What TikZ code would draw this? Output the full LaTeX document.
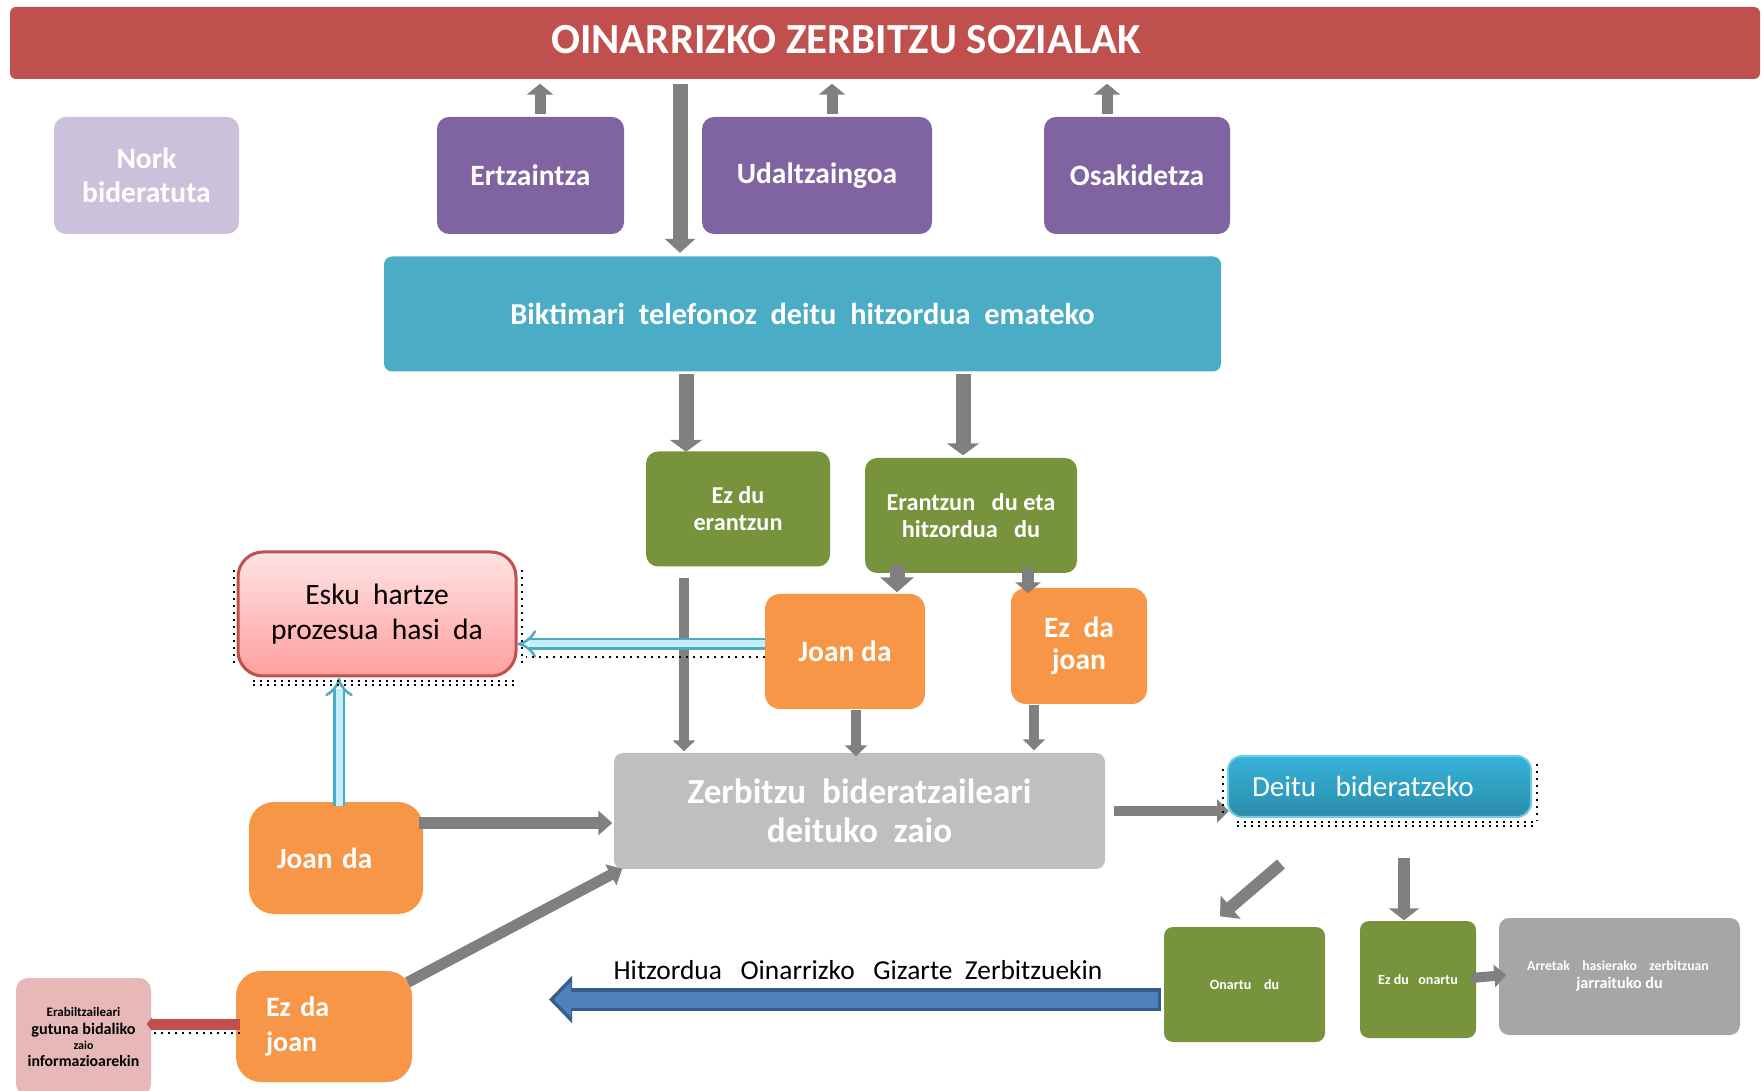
\documentclass[tikz,border=0pt]{standalone}
\usepackage{fontspec}
\setmainfont{Carlito}
\usetikzlibrary{arrows.meta,calc}
\definecolor{titlered}{HTML}{C0504D}
\definecolor{lavender}{HTML}{CCC1DA}
\definecolor{purp}{HTML}{8064A2}
\definecolor{aqua}{HTML}{4BACC6}
\definecolor{olive}{HTML}{77933C}
\definecolor{orng}{HTML}{F79646}
\definecolor{lgray}{HTML}{BFBFBF}
\definecolor{mgray}{HTML}{A6A6A6}
\definecolor{pinkbox}{HTML}{E6B9B8}
\definecolor{arrgray}{HTML}{808080}
\definecolor{bigblue}{HTML}{4F81BD}
\definecolor{bigblueb}{HTML}{385D8A}
\definecolor{pale}{HTML}{C4EEF9}
\definecolor{eskutop}{HTML}{FFE3E3}
\definecolor{eskubot}{HTML}{FF9F9F}
\definecolor{deitutop}{HTML}{35B3D9}
\definecolor{deitubot}{HTML}{2B8DAB}
\newcommand{\fsz}[2]{\fontsize{#1}{#2}\selectfont}

\begin{document}
\begin{tikzpicture}[x=0.1mm, y=-0.1mm,
    box/.style={rounded corners=1.2mm, inner sep=0pt, align=center, text=white},
    garrow/.style args={#1/#2/#3}{draw=arrgray, line width=#1, arrows={-Triangle[width=#2,length=#3]}},
    parrow/.style={draw=aqua, double=pale, double distance=0.7mm, line width=0.25mm, arrows={-Implies}},
    dotsh/.style={line width=0.2mm, dash pattern=on 0.2mm off 0.5mm}]
\useasboundingbox (0,0) rectangle (1762,1091);

% header
\node[box, fill=titlered, rounded corners=0.6mm, minimum width=175mm, minimum height=7.2mm] (bar) at (885,43) {};
\node[text=white, font=\bfseries\fsz{12.2}{14}] (title) at (846,40) {OINARRIZKO ZERBITZU SOZIALAK};

% who refers
\node[box, fill=lavender, minimum width=18.5mm, minimum height=11.7mm, font=\bfseries\fsz{8.4}{9.7}] (nork) at (146.5,175.5) {Nork\\bideratuta};
\node[box, fill=purp, minimum width=18.7mm, minimum height=11.7mm, font=\bfseries\fsz{8.4}{9.7}] (ertz) at (530.5,175.5) {Ertzaintza};
\node[box, fill=purp, minimum width=23mm, minimum height=11.7mm, font=\bfseries\fsz{8.4}{9.7}] (udal) at (817,175.5) {Udaltzaingoa};
\node[box, fill=purp, minimum width=18.6mm, minimum height=11.7mm, font=\bfseries\fsz{8.4}{9.7}] (osak) at (1137,175.5) {Osakidetza};

% phone call
\node[box, fill=aqua, rounded corners=0.8mm, minimum width=83.7mm, minimum height=11.5mm, font=\bfseries\fsz{8.65}{10}] (bikt) at (802.5,314) {Biktimari\ \ telefonoz\ \ deitu\ \ hitzordua\ \ emateko};
\node[box, fill=olive, minimum width=18.4mm, minimum height=11.5mm, font=\bfseries\fsz{6.9}{7.7}] (ezerantzun) at (738,509) {Ez du\\erantzun};
\node[box, fill=olive, minimum width=21.2mm, minimum height=11.5mm, font=\bfseries\fsz{6.9}{7.7}] (erantzundu) at (971,515.5) {Erantzun\ \ \ du eta\\hitzordua\ \ \ du};
\node[box, fill=orng, rounded corners=1.5mm, minimum width=16mm, minimum height=11.5mm, font=\bfseries\fsz{8.4}{9.1}] (joanmid) at (845,651.5) {Joan da};
\node[box, fill=orng, rounded corners=1.5mm, minimum width=13.6mm, minimum height=11.6mm, font=\bfseries\fsz{8.4}{9.1}] (ezjoanr) at (1079,646) {Ez\ \ da\\joan};
\node[box, fill=lgray, rounded corners=0.9mm, minimum width=49.1mm, minimum height=11.6mm, font=\bfseries\fsz{10}{11.1}] (zerb) at (859.5,811) {Zerbitzu\ \ bideratzaileari\\deituko\ \ zaio};

% referral
\node[box, top color=deitutop, bottom color=deitubot, draw=deitutop!70!white, line width=0.2mm, rounded corners=1.4mm, inner xsep=2.4mm, text width=25.5mm, align=left, minimum height=6.1mm, font=\fsz{8.3}{10}] (deitu) at (1379.5,786.5) {Deitu\ \ bideratzeko};
\node[box, fill=olive, rounded corners=0.9mm, minimum width=16.1mm, minimum height=11.5mm, font=\bfseries\fsz{4}{5}] (onartu) at (1244.5,984.5) {Onartu\ \ \ \ du};
\node[box, fill=olive, rounded corners=0.9mm, minimum width=11.6mm, minimum height=11.7mm, font=\bfseries\fsz{4}{5}] (ezonartu) at (1418,979.5) {Ez du\ \ \ onartu};
\node[box, fill=mgray, rounded corners=1mm, minimum width=24.1mm, minimum height=11.7mm, font=\bfseries\fsz{4.6}{5.1}] (arretak) at (1619.5,976.5) {{\fsz{3.9}{5.1}Arretak\ \ \ \ hasierako\ \ \ \ zerbitzuan\ \ }\\jarraituko du};

% left side
\node[box, top color=eskutop, bottom color=eskubot, draw=titlered, line width=0.3mm, rounded corners=2.5mm, minimum width=27.8mm, minimum height=12.4mm, text=black, font=\fsz{8.4}{10}] (esku) at (377,614) {Esku\ \ hartze\\prozesua\ \ hasi\ \ da};
\node[box, fill=orng, rounded corners=2.5mm, inner xsep=2.8mm, text width=11.8mm, align=left, minimum height=11.2mm, font=\bfseries\fsz{8.3}{10}] (joanl) at (336,858) {Joan da};
\node[box, fill=orng, rounded corners=2.5mm, inner xsep=3mm, text width=11.6mm, align=left, minimum height=11.1mm, font=\bfseries\fsz{8}{10}] (ezjoanl) at (324,1026.5) {Ez da\\joan};
\node[box, fill=pinkbox, rounded corners=1.2mm, minimum width=13.5mm, minimum height=11.8mm, text=black, font=\bfseries\fsz{4.5}{4.8}] (gutun) at (83.5,1037) {{\fsz{3.7}{4.8}Erabiltzaileari}\\[0.3pt]{\fsz{4.6}{4.8}gutuna bidaliko}\\[-0.6pt]{\fsz{3.4}{4.8}zaio}\\informazioarekin};
\node[font=\fsz{7.8}{9}] (hitzlbl) at (858,970) {Hitzordua\ \ \ Oinarrizko\ \ \ Gizarte\ \ Zerbitzuekin};
\coordinate (hitzend) at (549,999.5);

% gray arrows
\draw[garrow=1.1mm/2.6mm/1.1mm] ($(ertz.north)+(9.5,-2)$) -- ($(ertz.north|-bar.south)+(9.5,4)$);
\draw[garrow=1.1mm/2.6mm/1.1mm] ($(udal.north)+(15,-2)$) -- ($(udal.north|-bar.south)+(15,4)$);
\draw[garrow=1.1mm/2.6mm/1.1mm] ($(osak.north)+(-30,-2)$) -- ($(osak.north|-bar.south)+(-30,4)$);
\draw[garrow=1.5mm/3mm/1.4mm] ($(bikt.north|-bar.south)+(-122.5,4)$) -- ($(bikt.north)+(-122.5,-3)$);
\draw[garrow=1.5mm/3.2mm/1.2mm] ($(ezerantzun.north|-bikt.south)+(-52,2)$) -- ($(ezerantzun.north)+(-52,1)$);
\draw[garrow=1.5mm/3.2mm/1.2mm] ($(erantzundu.north|-bikt.south)+(-8,2)$) -- ($(erantzundu.north)+(-8,-2)$);
\draw[garrow=1.5mm/3.3mm/1.5mm] ($(joanmid.north|-erantzundu.south)+(52,-9)$) -- ($(joanmid.north)+(52,-1)$);
\draw[garrow=1.15mm/2.5mm/1.1mm] ($(ezjoanr.north|-erantzundu.south)+(-51,-6)$) -- ($(ezjoanr.north)+(-51,6)$);
\draw[garrow=1mm/2.2mm/1.1mm] ($(ezerantzun.south)+(-54,11)$) -- ($(ezerantzun.south|-zerb.north)+(-54,-1)$);
\draw[garrow=1mm/2.2mm/1.1mm] ($(joanmid.south)+(11,0)$) -- ($(joanmid.south|-zerb.north)+(11,4)$);
\draw[garrow=1mm/2.2mm/1.1mm] ($(ezjoanr.south)+(-45,0)$) -- ($(ezjoanr.south|-zerb.north)+(-45,-2)$);
\draw[garrow=1mm/2.3mm/1.2mm] ($(zerb.east)+(8.5,0)$) -- ($(deitu.west|-zerb.east)+(2,0)$);
\draw[garrow=1.2mm/3mm/1.4mm] ($(deitu.south)+(-98.5,46)$) -- ($(onartu.north)+(-24.5,-10)$);
\draw[garrow=1.2mm/3mm/1.2mm] ($(ezonartu.north|-deitu.south)+(-14,40)$) -- ($(ezonartu.north)+(-14,0)$);
\draw[garrow=1mm/2.2mm/1.2mm] ($(ezonartu.east)+(-6,-1.5)$) -- ($(arretak.west)+(8,-1.5)$);
\draw[garrow=1.2mm/2.4mm/1.4mm] ($(joanl.east)+(-5,-35)$) -- ($(zerb.west)+(-1,12)$);
\draw[garrow=1.1mm/2.3mm/1.3mm] ($(ezjoanl.north east)+(-5,12)$) -- ($(zerb.south west)+(9,-1)$);

% blue arrow
\draw[draw=bigblueb, line width=2.3mm, arrows={-Triangle[width=4.6mm,length=2.3mm]}] ($(onartu.west)+(-2,15)$) -- (hitzend);
\draw[draw=bigblue, line width=1.6mm, shorten <=0.35mm, shorten >=0.5mm, arrows={-Triangle[width=3.4mm,length=1.7mm]}] ($(onartu.west)+(-2,15)$) -- (hitzend);

% red arrow
\draw[draw=titlered, line width=1.1mm, arrows={-Triangle[width=1.3mm,length=0.5mm]}] ($(ezjoanl.west)+(5,-2.5)$) coordinate (rstart) -- ($(rstart-|gutun.east)+(-5,0)$);
\draw[dotsh] ($(rstart)+(0,9)$) -- ($(rstart-|gutun.east)+(0,9)$);

% pale arrows
\draw[parrow] ($(joanmid.west)+(1,-7.5)$) coordinate (hstart) -- (hstart-|esku.east);
\draw[parrow] ($(joanl.north)+(3,5)$) coordinate (vstart) -- (vstart|-esku.south);

% dotted shadows
\draw[dotsh] ($(esku.south west)+(16,4)$) -- ($(esku.south east)+(-4,4)$);
\draw[dotsh] ($(esku.south west)+(16,8)$) -- ($(esku.south east)+(-4,8)$);
\draw[dotsh] ($(esku.north west)+(-3,20)$) -- ($(esku.south west)+(-3,-12)$);
\draw[dotsh] ($(esku.north east)+(4,20)$) -- ($(esku.south east)+(4,-12)$);
\draw[dotsh] ($(hstart)+(0,13)$) -- ($(hstart-|esku.east)+(8,13)$);
\draw[dotsh] ($(deitu.south west)+(10,4)$) -- ($(deitu.south east)+(3,4)$);
\draw[dotsh] ($(deitu.south west)+(10,8)$) -- ($(deitu.south east)+(3,8)$);
\draw[dotsh] ($(deitu.north west)+(-4,14)$) -- ($(deitu.south west)+(-4,-2)$);
\draw[dotsh] ($(deitu.north east)+(5,9)$) -- ($(deitu.south east)+(5,3)$);
\end{tikzpicture}
\end{document}
